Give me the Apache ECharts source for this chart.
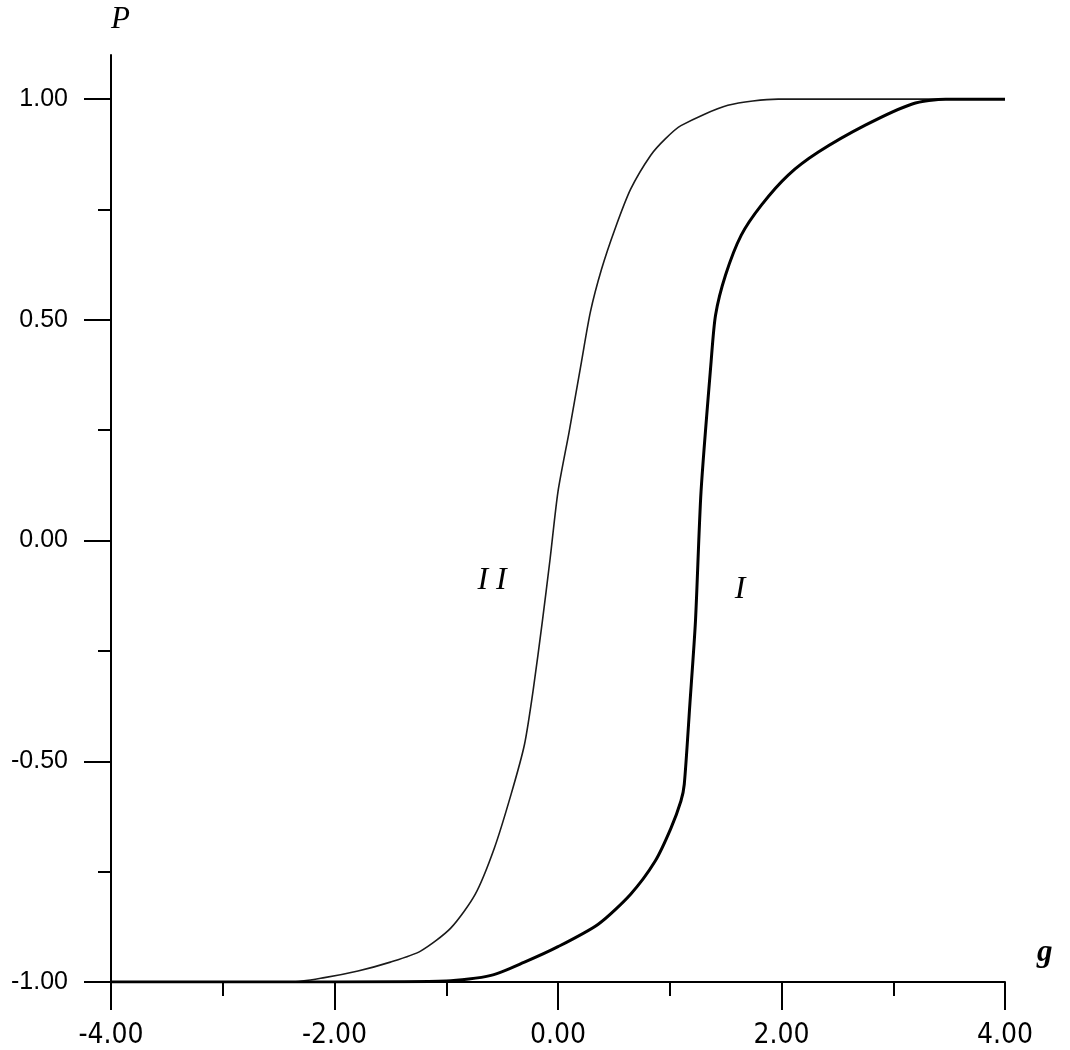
<!DOCTYPE html>
<html>
<head>
<meta charset="utf-8">
<title>P versus g</title>
<script src="https://cdn.jsdelivr.net/npm/echarts@6/dist/echarts.min.js"></script>
<style>
  html, body { margin: 0; padding: 0; background: #fff; }
  #chart { width: 1070px; height: 1050px; }
</style>
</head>
<body>
<div id="chart"></div>
<script>
// curve I (thick, right one)
const gI = [-4.0, -2.0, -1.0, -0.6, -0.3, 0.0, 0.36, 0.65, 0.87, 1.01, 1.10, 1.13, 1.18, 1.23, 1.28, 1.37, 1.41, 1.50, 1.64, 1.82, 2.06, 2.33, 2.75, 3.17, 3.47, 4.0];
const pI = [-1.0, -1.0, -0.998, -0.985, -0.955, -0.92, -0.869, -0.801, -0.726, -0.652, -0.59, -0.552, -0.371, -0.183, 0.111, 0.405, 0.511, 0.602, 0.692, 0.76, 0.828, 0.88, 0.941, 0.989, 1.0, 1.0];

// curve II (thin, left one)
const gII = [-4.0, -2.39, -2.09, -1.79, -1.50, -1.23, -0.96, -0.74, -0.57, -0.42, -0.30, -0.22, -0.14, -0.07, 0.0, 0.10, 0.21, 0.29, 0.39, 0.51, 0.65, 0.83, 0.96, 1.10, 1.52, 1.97, 4.0];
const pII = [-1.0, -1.0, -0.99, -0.975, -0.955, -0.93, -0.878, -0.801, -0.697, -0.575, -0.462, -0.335, -0.183, -0.04, 0.111, 0.247, 0.405, 0.518, 0.615, 0.706, 0.796, 0.873, 0.91, 0.94, 0.986, 1.0, 1.0];

// axis ticks
const yMajor = [-1.0, -0.5, 0.0, 0.5, 1.0];
const yMinor = [-0.75, -0.25, 0.25, 0.75];

// where the curve names sit
const labelI = [1.63, -0.11];
const labelII = [-0.59, -0.09];

const chart = echarts.init(document.getElementById('chart'));

const pairs = (xs, ys) => xs.map((x, i) => [x, ys[i]]);
const black = { color: '#000', width: 2 };

function curveName(coord, text) {
  return {
    symbol: 'circle',
    symbolSize: 1,
    itemStyle: { color: 'transparent' },
    data: [{ coord: coord }],
    label: {
      show: true,
      position: 'inside',
      formatter: text,
      fontFamily: 'Liberation Serif, serif',
      fontStyle: 'italic',
      fontSize: 32,
      color: '#000'
    }
  };
}

const option = {
  backgroundColor: '#fff',
  animation: false,
  grid: { left: 111, right: 65, top: 55, bottom: 68 },
  xAxis: {
    type: 'value',
    min: -4,
    max: 4,
    interval: 2,
    name: 'g',
    nameLocation: 'end',
    nameGap: 32,
    nameTextStyle: {
      fontFamily: 'Liberation Serif, serif',
      fontStyle: 'italic',
      fontWeight: 'bold',
      fontSize: 31,
      color: '#000',
      verticalAlign: 'bottom',
      padding: [0, 0, 14, 0]
    },
    axisLine: { onZero: false, lineStyle: black },
    axisTick: { length: 28, lineStyle: black },
    minorTick: { show: true, splitNumber: 2, length: 14, lineStyle: black },
    splitLine: { show: false },
    axisLabel: {
      margin: 40,
      fontFamily: 'Liberation Sans Narrow, DejaVu Sans Condensed, sans-serif',
      fontSize: 28,
      color: '#000',
      formatter: v => v.toFixed(2)
    }
  },
  yAxis: [
    {
      type: 'value',
      min: -1,
      max: 1.1,
      name: 'P',
      nameLocation: 'end',
      nameGap: 20,
      nameTextStyle: {
        fontFamily: 'Liberation Serif, serif',
        fontStyle: 'italic',
        fontSize: 31,
        color: '#000',
        align: 'left'
      },
      axisLine: { onZero: false, lineStyle: black },
      axisTick: { customValues: yMajor, length: 27, lineStyle: black },
      axisLabel: {
        customValues: yMajor,
        margin: 43,
        fontFamily: 'Liberation Sans, Arial, sans-serif',
        fontSize: 25,
        color: '#000',
        formatter: v => v.toFixed(2)
      },
      splitLine: { show: false }
    },
    {
      // minor ticks only
      type: 'value',
      min: -1,
      max: 1.1,
      position: 'left',
      axisLine: { show: false, onZero: false },
      axisTick: { customValues: yMinor, length: 13, lineStyle: black },
      axisLabel: { show: false },
      splitLine: { show: false }
    }
  ],
  series: [
    {
      name: 'I',
      type: 'line',
      data: pairs(gI, pI),
      showSymbol: false,
      symbol: 'none',
      smooth: 0.25,
      lineStyle: { color: '#000', width: 3 },
      z: 3,
      markPoint: curveName(labelI, 'I')
    },
    {
      name: 'II',
      type: 'line',
      data: pairs(gII, pII),
      showSymbol: false,
      symbol: 'none',
      smooth: 0.25,
      lineStyle: { color: '#1a1a1a', width: 1.6 },
      z: 2,
      markPoint: curveName(labelII, 'I I')
    }
  ]
};

chart.setOption(option);
</script>
</body>
</html>
